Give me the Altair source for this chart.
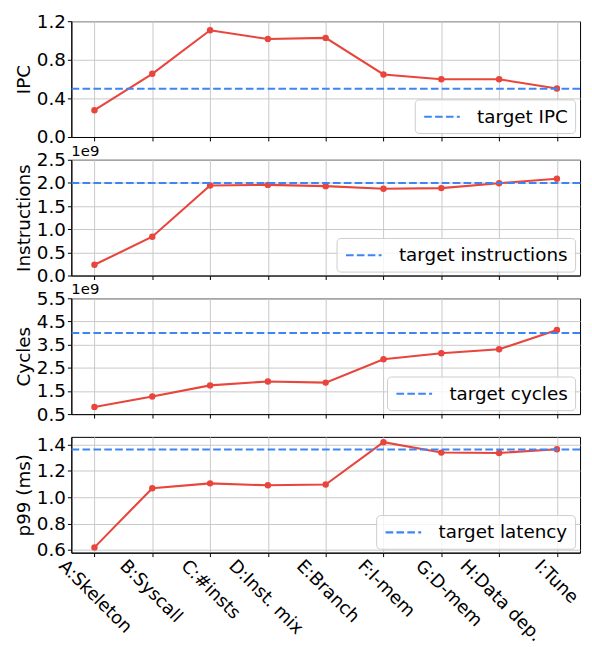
import altair as alt
import pandas as pd

stages = ["A:Skeleton", "B:Syscall", "C:#insts", "D:Inst. mix", "E:Branch",
          "F:I-mem", "G:D-mem", "H:Data dep.", "I:Tune"]
ipc = [0.278, 0.655, 1.106, 1.015, 1.027, 0.648, 0.598, 0.598, 0.502]
instructions = [0.232e9, 0.838e9, 1.943e9, 1.957e9, 1.930e9, 1.873e9, 1.888e9, 1.993e9, 2.090e9]
cycles = [0.81e9, 1.26e9, 1.74e9, 1.91e9, 1.86e9, 2.87e9, 3.13e9, 3.30e9, 4.13e9]
p99_ms = [0.620, 1.068, 1.105, 1.090, 1.096, 1.417, 1.338, 1.335, 1.363]

target_ipc = 0.5
target_instructions = 2.0e9
target_cycles = 4.0e9
target_latency = 1.362

RED = "#e8453c"
BLUE = "#3d85f5"
FONT = "DejaVu Sans"
FS = 18.5
W, H = 514, 117


def panel(values, target, ytitle, tname, domain, ticks, legend_x, fmt,
          bottom=False, offset_text=None):
    df = pd.DataFrame({"stage": stages, "v": values})
    tdf = pd.DataFrame({"v": [target], "name": [tname]})
    if bottom:
        xaxis = alt.Axis(title=None, labelAngle=45, labelAlign="left",
                         labelBaseline="top", labelPadding=0, labelFontSize=18,
                         labelOverlap=False, labelLimit=300,
                         labelOffset={"expr": "-(length(datum.value)*9.6-21)*0.3536-1"})
    else:
        xaxis = alt.Axis(title=None, labels=False)
    x = alt.X("stage:N", sort=stages, axis=xaxis,
              scale=alt.Scale(type="point", padding=0.4))
    yscale = alt.Scale(domain=domain, nice=False, zero=False)
    yaxis = alt.Axis(values=ticks, labelExpr=fmt, title=ytitle, titlePadding=3,
                     labelOverlap=False, labelPadding=2, labelSeparation=0)
    line = alt.Chart(df).mark_line(
        color=RED, strokeWidth=2.1,
        point=alt.OverlayMarkDef(color=RED, size=42, filled=True, opacity=1),
    ).encode(x=x, y=alt.Y("v:Q", scale=yscale, axis=yaxis, title=ytitle))
    rule = alt.Chart(tdf).mark_rule(strokeDash=[7.7, 3.3], strokeWidth=2.1).encode(
        y=alt.Y("v:Q", scale=yscale, axis=yaxis, title=ytitle),
        color=alt.Color("name:N", scale=alt.Scale(range=[BLUE]),
                        legend=alt.Legend(
                            title=None, orient="none", legendX=legend_x, legendY=79,
                            symbolType="M-2,0H2", symbolSize=324, symbolOffset=10,
                            symbolDash=[7.7, 3.3], symbolStrokeWidth=2.1,
                            labelFont=FONT, labelFontSize=FS, labelColor="black",
                            labelOffset=25, labelLimit=400, padding=7,
                            fillColor="rgba(255,255,255,0.8)",
                            strokeColor="#cccccc", cornerRadius=4)),
    )
    layers = [line, rule]
    if offset_text:
        ot = alt.Chart(pd.DataFrame({"t": [offset_text]})).mark_text(
            align="left", baseline="bottom", font=FONT, fontSize=15, color="black"
        ).encode(x=alt.value(0), y=alt.value(-1), text="t:N")
        layers.append(ot)
    return alt.layer(*layers).properties(width=W, height=H)


p1 = panel(ipc, target_ipc, "IPC", "target IPC", [0, 1.2], [0, 0.4, 0.8, 1.2],
           347, "format(datum.value, '.1f')")
p2 = panel(instructions, target_instructions, "Instructions", "target instructions",
           [0, 2.5e9], [0, 0.5e9, 1.0e9, 1.5e9, 2.0e9, 2.5e9], 268,
           "format(datum.value/1e9, '.1f')", offset_text="1e9")
p3 = panel(cycles, target_cycles, "Cycles", "target cycles",
           [0.5e9, 5.5e9], [0.5e9, 1.5e9, 2.5e9, 3.5e9, 4.5e9, 5.5e9], 319,
           "format(datum.value/1e9, '.1f')", offset_text="1e9")
p4 = panel(p99_ms, target_latency, "p99 (ms)", "target latency",
           [0.58, 1.457], [0.6, 0.8, 1.0, 1.2, 1.4], 308,
           "format(datum.value, '.1f')", bottom=True)

chart = alt.vconcat(p1, p2, p3, p4, spacing=23, bounds="flush").resolve_scale(
    color="independent"
).properties(
    padding={"left": 6, "top": 0, "right": 2, "bottom": 0}
).configure_view(
    stroke="black", strokeWidth=1
).configure_axis(
    domainColor="black", domainWidth=1, tickColor="black", tickWidth=1, tickSize=4,
    labelFont=FONT, labelFontSize=FS, labelColor="black", labelOverlap=False,
    titleFont=FONT, titleFontSize=FS, titleFontWeight="normal", titleColor="black",
    grid=True, gridColor="#c8c8c8", gridWidth=1,
).configure_axisY(labelOverlap=False)

chart.save("out.html", embed_options={"renderer": "svg", "actions": False})
